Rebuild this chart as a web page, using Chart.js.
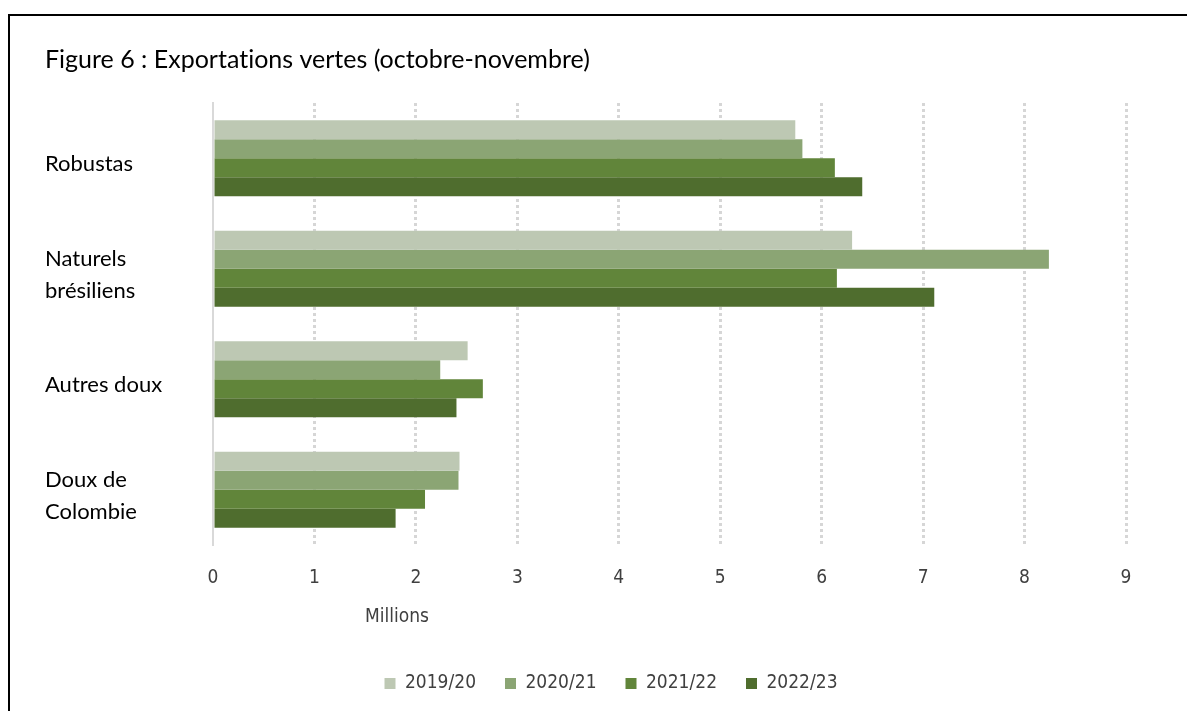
<!DOCTYPE html>
<html>
<head>
<meta charset="utf-8">
<script src="https://cdn.jsdelivr.net/npm/chart.js@4.4.1/dist/chart.umd.min.js"></script>
<style>
    html, body { margin: 0; padding: 0; background: #fff; overflow: hidden; }
    #frame { position: absolute; left: 8px; top: 14px; width: 1200px; height: 720px; border-top: 2px solid #000; border-left: 2px solid #000; pointer-events: none; }
    #chart { position: absolute; left: 0; top: 0; }
</style>
</head>
<body>
<canvas id="chart" width="1187" height="711"></canvas>
<div id="frame"></div>
<script>
const categories = ["Robustas", ["Naturels", "brésiliens"], "Autres doux", ["Doux de", "Colombie"]];
const seasons = ["2019/20", "2020/21", "2021/22", "2022/23"];
const exports1920 = [5.74, 6.30, 2.51, 2.43];
const exports2021 = [5.81, 8.24, 2.24, 2.42];
const exports2122 = [6.13, 6.15, 2.66, 2.09];
const exports2223 = [6.40, 7.11, 2.40, 1.80];
const seasonColors = ["#bdc8b3", "#8ba574", "#61853a", "#4f6d2e"];

const labelFont = "Lato, 'Open Sans', sans-serif";
const numberFont = "'DejaVu Sans Condensed', 'DejaVu Sans', sans-serif";

// draws the "Millions" axis caption, which Excel puts off-centre
const millionsCaption = {
    id: "millionsCaption",
    afterDraw(chart) {
        const ctx = chart.ctx;
        ctx.save();
        ctx.font = "19px " + numberFont;
        ctx.fillStyle = "#404040";
        ctx.textAlign = "center";
        ctx.textBaseline = "middle";
        ctx.fillText("Millions", chart.chartArea.left + 184, 617);
        ctx.restore();
    }
};

const allSeries = [exports1920, exports2021, exports2122, exports2223];

new Chart(document.getElementById("chart").getContext("2d"), {
    type: "bar",
    data: {
        labels: categories,
        datasets: allSeries.map((values, i) => ({
            label: seasons[i],
            data: values,
            backgroundColor: seasonColors[i],
            borderWidth: 0,
            categoryPercentage: 0.69,
            barPercentage: 1
        }))
    },
    options: {
        indexAxis: "y",
        responsive: false,
        animation: false,
        devicePixelRatio: 1,
        layout: { padding: { left: 45, right: 10, top: 0, bottom: 8 } },
        plugins: {
            title: {
                display: true,
                // zero-width non-joiner keeps Lato from using its "ti" ligature
                text: "Figure 6 : Exportat\u200Cions vertes (octobre-novembre)",
                align: "start",
                color: "#000",
                font: { family: labelFont, size: 25, weight: "normal", lineHeight: 1.2 },
                padding: { top: 45, bottom: 28 }
            },
            legend: {
                position: "bottom",
                labels: {
                    boxWidth: 11,
                    boxHeight: 11,
                    padding: 29,
                    color: "#404040",
                    font: { family: numberFont, size: 19 }
                }
            },
            tooltip: { enabled: false }
        },
        scales: {
            x: {
                min: 0,
                max: 9,
                ticks: { stepSize: 1, padding: 22, color: "#404040", font: { family: numberFont, size: 19 } },
                grid: {
                    drawTicks: false,
                    lineWidth: 3,
                    color: (ctx) => (ctx.tick && ctx.tick.value === 0 ? "rgba(0,0,0,0)" : "#d6d6d6")
                },
                border: { display: false, dash: [3, 3] },
                afterFit: (scale) => { scale.height = 100; }
            },
            y: {
                grid: { display: false },
                border: { display: true, color: "#d9d9d9", width: 2 },
                ticks: {
                    crossAlign: "far",
                    padding: 0,
                    labelOffset: 6,
                    color: "#000",
                    font: { family: labelFont, size: 22, lineHeight: 1.45 }
                },
                afterFit: (scale) => { scale.width = 168; }
            },
            spacer: {
                type: "category",
                position: "right",
                grid: { display: false },
                border: { display: false },
                ticks: { display: false },
                afterFit: (scale) => { scale.width = 51; }
            }
        }
    },
    plugins: [millionsCaption]
});
</script>
</body>
</html>
